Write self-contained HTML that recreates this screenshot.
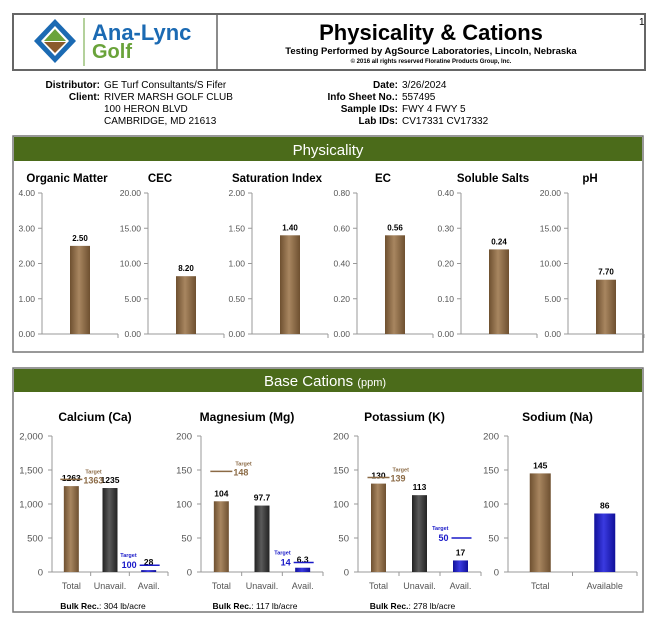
<!DOCTYPE html>
<html><head><meta charset="utf-8"><style>
body{margin:0;background:#fff;}
svg{display:block;font-family:"Liberation Sans",sans-serif;}
.b{font-weight:bold}
</style></head><body>
<svg id="s" width="655" height="628" viewBox="0 0 655 628" xmlns="http://www.w3.org/2000/svg">
<defs>
<linearGradient id="gBrown" x1="0" x2="1"><stop offset="0" stop-color="#6e5030"/><stop offset="0.45" stop-color="#a88660"/><stop offset="1" stop-color="#6e5030"/></linearGradient>
<linearGradient id="gGrey" x1="0" x2="1"><stop offset="0" stop-color="#222"/><stop offset="0.45" stop-color="#5a5a5a"/><stop offset="1" stop-color="#222"/></linearGradient>
<linearGradient id="gBlue" x1="0" x2="1"><stop offset="0" stop-color="#10109a"/><stop offset="0.45" stop-color="#3a3ae0"/><stop offset="1" stop-color="#10109a"/></linearGradient>
</defs>
<g>
<rect x="13" y="14" width="632" height="56" fill="#fff" stroke="#666" stroke-width="2"/>
<line x1="217" y1="14" x2="217" y2="70" stroke="#666" stroke-width="1.5"/>
<g>
<polygon points="55,19 76,41 55,63 34,41" fill="#1b6ab3"/>
<polygon points="55,26 69,41 55,56 41,41" fill="#fff"/>
<polygon points="55,29 66,41 44,41" fill="#6aa33a"/>
<polygon points="44,42 66,42 55,53" fill="#8b5a2b"/>
<line x1="84" y1="18" x2="84" y2="66" stroke="#6aa33a" stroke-width="1"/>
<text x="92" y="40" font-size="22" font-weight="bold" fill="#1b6ab3">Ana-Lync</text>
<text x="92" y="58" font-size="20" font-weight="bold" fill="#6aa33a">Golf</text>
</g>
<text x="431" y="40" font-size="22" class="b" text-anchor="middle">Physicality &amp; Cations</text>
<text x="431" y="54" font-size="9.5" class="b" text-anchor="middle">Testing Performed by AgSource Laboratories, Lincoln, Nebraska</text>
<text x="431" y="63" font-size="6" class="b" text-anchor="middle">© 2016 all rights reserved Floratine Products Group, Inc.</text>
<text x="639" y="25" font-size="10">1</text>
</g>
<g font-size="10">
<text x="100" y="88" text-anchor="end" class="b">Distributor:</text><text x="104" y="88">GE Turf Consultants/S Fifer</text>
<text x="100" y="100" text-anchor="end" class="b">Client:</text><text x="104" y="100">RIVER MARSH GOLF CLUB</text>
<text x="104" y="112">100 HERON BLVD</text>
<text x="104" y="124">CAMBRIDGE, MD 21613</text>
<text x="398" y="88" text-anchor="end" class="b">Date:</text><text x="402" y="88">3/26/2024</text>
<text x="398" y="100" text-anchor="end" class="b">Info Sheet No.:</text><text x="402" y="100">557495</text>
<text x="398" y="112" text-anchor="end" class="b">Sample IDs:</text><text x="402" y="112">FWY 4 FWY 5</text>
<text x="398" y="124" text-anchor="end" class="b">Lab IDs:</text><text x="402" y="124">CV17331 CV17332</text>
</g>
<g>
<rect x="13" y="136" width="630" height="216" fill="#fff" stroke="#777" stroke-width="1.5"/>
<rect x="14" y="137" width="628" height="24" fill="#4b6b1a"/>
<text x="328" y="155" font-size="15" fill="#fff" text-anchor="middle">Physicality</text>
</g>
<g>
<rect x="13" y="368" width="630" height="244" fill="#fff" stroke="#777" stroke-width="1.5"/>
<rect x="14" y="369" width="628" height="23" fill="#4b6b1a"/>
<text x="325" y="386" font-size="15" fill="#fff" text-anchor="middle">Base Cations <tspan font-size="11">(ppm)</tspan></text>
</g>
<g id="phys"></g>
<g id="cat"></g>
</svg>
<script>
const physTitles=["Organic Matter","CEC","Saturation Index","EC","Soluble Salts","pH"];
const physValues=[2.50,8.20,1.40,0.56,0.24,7.70];
const physMax=[4,20,2,0.8,0.4,20];
const physLabels=["2.50","8.20","1.40","0.56","0.24","7.70"];

const catTitles=["Calcium (Ca)","Magnesium (Mg)","Potassium (K)","Sodium (Na)"];
const catCategories=[["Total","Unavail.","Avail."],["Total","Unavail.","Avail."],["Total","Unavail.","Avail."],["Tctal","Available"]];
const catValues=[[1263,1235,28],[104,97.7,6.3],[130,113,17],[145,86]];
const catLabels=[["1263","1235","28"],["104","97.7","6.3"],["130","113","17"],["145","86"]];
const catMax=[2000,200,200,200];
const catTickLabels=[["0","500","1,000","1,500","2,000"],["0","50","100","150","200"],["0","50","100","150","200"],["0","50","100","150","200"]];
const totalTargets=[1363,148,139,null];
const availTargets=[100,14,50,null];
const bulkRec=["304","117","278",null];

const NS="http://www.w3.org/2000/svg";
function mk(tag,attrs,parent,txt){const e=document.createElementNS(NS,tag);for(const k in attrs)e.setAttribute(k,attrs[k]);if(txt!==undefined)e.textContent=txt;parent.appendChild(e);return e;}

const phys=document.getElementById('phys');
const pAxisX=[42,148,252,357,461,568];
const pTitleX=[67,160,277,383,493,590];
const pTop=193,pBot=334;
physTitles.forEach((t,i)=>{
  const g=mk('g',{},phys);
  
  
  const x0=pAxisX[i],w=76;
  const y=v=>pBot-(v/physMax[i])*(pBot-pTop);
  const tt=mk('text',{x:pTitleX[i],y:182,'font-size':11.5,'font-weight':'bold','text-anchor':'middle'},g,t);
  
  
  mk('line',{x1:x0,y1:pTop,x2:x0,y2:pBot,stroke:'#999'},g);
  mk('line',{x1:x0,y1:pBot,x2:x0+w,y2:pBot,stroke:'#999'},g);
  for(let k=0;k<=4;k++){const v=physMax[i]*k/4;const yy=y(v);
    mk('line',{x1:x0-4,y1:yy,x2:x0,y2:yy,stroke:'#999'},g);
    mk('text',{x:x0-7,y:yy+3,'font-size':8.5,fill:'#555','text-anchor':'end'},g,v.toFixed(2));}
  mk('line',{x1:x0+w,y1:pBot,x2:x0+w,y2:pBot+4,stroke:'#999'},g);
  const cx=x0+38;
  const bar=mk('rect',{x:cx-10,y:y(physValues[i]),width:20,height:pBot-y(physValues[i]),fill:'url(#gBrown)'},g);
  
  
  mk('text',{x:cx,y:y(physValues[i])-5,'font-size':8,'font-weight':'bold','text-anchor':'middle'},g,physLabels[i]);
});

const cat=document.getElementById('cat');
const cAxisX=[52,201,358,508],cW=[116,122,123,129];
const cTop=436,cBot=572;
const fills=[['url(#gBrown)','url(#gGrey)','url(#gBlue)'],['url(#gBrown)','url(#gGrey)','url(#gBlue)'],['url(#gBrown)','url(#gGrey)','url(#gBlue)'],['url(#gBrown)','url(#gBlue)']];
catTitles.forEach((t,i)=>{
  const g=mk('g',{},cat);
  
  
  const x0=cAxisX[i],w=cW[i],n=catCategories[i].length,slot=w/n;
  const y=v=>cBot-(v/catMax[i])*(cBot-cTop);
  const tt=mk('text',{x:x0+w/2-15,y:421,'font-size':12,'font-weight':'bold','text-anchor':'middle'},g,t);
  
  
  mk('line',{x1:x0,y1:cTop,x2:x0,y2:cBot,stroke:'#999'},g);
  mk('line',{x1:x0,y1:cBot,x2:x0+w,y2:cBot,stroke:'#999'},g);
  catTickLabels[i].forEach((lb,k)=>{const yy=y(catMax[i]*k/4);
    mk('line',{x1:x0-4,y1:yy,x2:x0,y2:yy,stroke:'#999'},g);
    mk('text',{x:x0-9,y:yy+3.5,'font-size':9.5,fill:'#555','text-anchor':'end'},g,lb);});
  for(let k=1;k<=n;k++)mk('line',{x1:x0+slot*k,y1:cBot,x2:x0+slot*k,y2:cBot+4,stroke:'#999'},g);
  const bw=i===3?21:15;
  catValues[i].forEach((v,j)=>{
    const cx=x0+slot*(j+0.5);
    const bar=mk('rect',{x:cx-bw/2,y:y(v),width:bw,height:cBot-y(v),fill:fills[i][j]},g);
    
    
    mk('text',{x:cx,y:y(v)-5,'font-size':8.5,'font-weight':'bold','text-anchor':'middle'},g,catLabels[i][j]);
    mk('text',{x:cx,y:589,'font-size':9,fill:'#555','text-anchor':'middle'},g,catCategories[i][j]);
  });
  if(totalTargets[i]!==null){
    const cx=x0+slot*0.5,ty=y(totalTargets[i]);
    const tg=mk('g',{},g);
    
    
    mk('line',{x1:cx-11,y1:ty,x2:cx+11,y2:ty,stroke:'#8b6a45','stroke-width':1.5},tg);
    mk('text',{x:cx+14,y:ty-6,'font-size':5.5,'font-weight':'bold',fill:'#8b6a45'},tg,'Target');
    mk('text',{x:cx+12,y:ty+4,'font-size':9,'font-weight':'bold',fill:'#8b6a45'},tg,String(totalTargets[i]));
  }
  if(availTargets[i]!==null){
    const cx=x0+slot*2.5,ty=y(availTargets[i]);
    const tg=mk('g',{},g);
    
    
    mk('line',{x1:cx-9,y1:ty,x2:cx+11,y2:ty,stroke:'#1a1ac8','stroke-width':1.5},tg);
    mk('text',{x:cx-12,y:ty-8,'font-size':5.5,'font-weight':'bold',fill:'#1a1ac8','text-anchor':'end'},tg,'Target');
    mk('text',{x:cx-12,y:ty+3,'font-size':9,'font-weight':'bold',fill:'#1a1ac8','text-anchor':'end'},tg,String(availTargets[i]));
  }
  if(bulkRec[i]!==null){
    const bt=mk('text',{x:x0+w/2-7,y:609,'font-size':8.5,'text-anchor':'middle'},g);
    
    
    mk('tspan',{'font-weight':'bold'},bt,'Bulk Rec.');
    mk('tspan',{},bt,': '+bulkRec[i]+' lb/acre');
  }
});
</script>
</body></html>
